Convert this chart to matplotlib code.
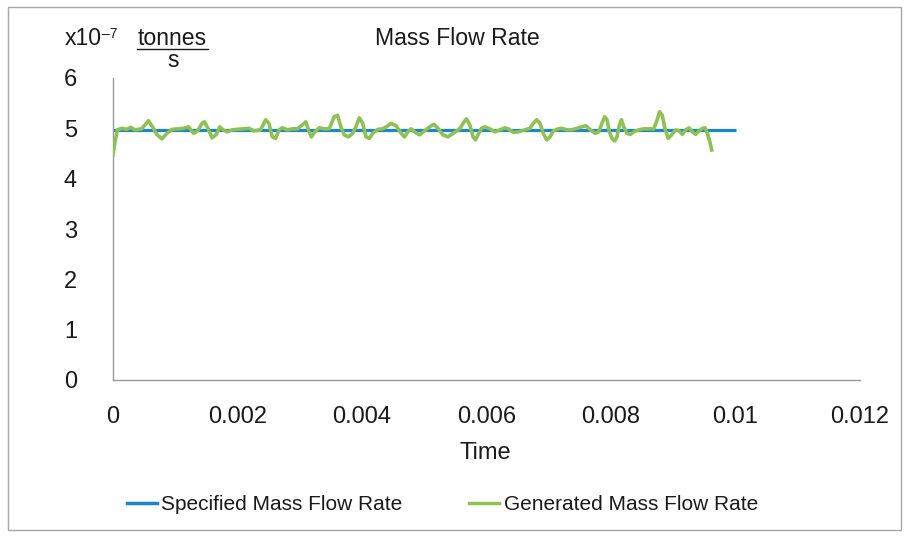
import matplotlib
matplotlib.use("Agg")
import matplotlib.pyplot as plt
from matplotlib.lines import Line2D
from matplotlib.patches import Rectangle

plt.rcParams['font.family'] = ['Liberation Sans', 'DejaVu Sans']

# ---- data (time in ms scaled below to seconds, mass flow in 1e-7 tonnes/s) ----
spec_t_ms = [0.0, 10.0]
spec_v = [4.97, 4.97]

gen_t_ms = [
    0.000, 0.032, 0.070, 0.140, 0.220, 0.285, 0.355, 0.462, 0.570, 0.650,
    0.704, 0.785, 0.866, 0.946, 1.054, 1.134, 1.215, 1.296, 1.360, 1.430,
    1.468, 1.521, 1.591, 1.661, 1.715, 1.769, 1.833, 1.914, 1.995, 2.102,
    2.183, 2.263, 2.371,
    2.452, 2.505, 2.559, 2.613, 2.667, 2.720, 2.801, 2.882, 2.962, 3.043,
    3.097, 3.151, 3.188, 3.242, 3.312, 3.392, 3.473, 3.554, 3.607, 3.661,
    3.715, 3.780, 3.849, 3.903, 3.957, 4.011, 4.064, 4.118, 4.172, 4.253,
    4.333, 4.414, 4.468, 4.548, 4.629, 4.683, 4.736, 4.790,
    4.844, 4.924, 5.005, 5.086, 5.156, 5.220, 5.301, 5.381, 5.489, 5.570,
    5.623, 5.677, 5.731, 5.785, 5.822, 5.865, 5.919, 5.973, 6.053, 6.134,
    6.215, 6.295, 6.349, 6.430, 6.510, 6.618, 6.698, 6.752, 6.806, 6.860,
    6.913, 6.967, 7.021, 7.075, 7.155, 7.209,
    7.291, 7.371, 7.452, 7.533, 7.597, 7.667, 7.748, 7.801, 7.855, 7.898,
    7.936, 7.973, 8.016, 8.059, 8.097, 8.135, 8.167, 8.205, 8.258, 8.312,
    8.366, 8.446, 8.527, 8.608, 8.688, 8.742, 8.780, 8.823, 8.866, 8.920,
    8.973, 9.038, 9.092, 9.145, 9.199, 9.253, 9.307, 9.360, 9.414, 9.468,
    9.511, 9.549, 9.586, 9.618,
]
gen_v = [
    4.47, 4.73, 4.97, 5.00, 4.98, 5.02, 4.97, 4.99, 5.15, 5.00,
    4.88, 4.79, 4.90, 4.98, 4.99, 5.00, 5.03, 4.90, 4.95, 5.10,
    5.13, 5.01, 4.81, 4.88, 5.03, 4.97, 4.93, 4.97, 4.98, 4.99,
    5.00, 4.95, 4.97,
    5.17, 5.10, 4.83, 4.80, 4.97, 5.01, 4.97, 4.99, 4.99, 5.07,
    5.13, 4.93, 4.83, 4.93, 5.01, 4.99, 4.99, 5.23, 5.26, 5.03,
    4.87, 4.83, 4.90, 5.03, 5.21, 5.10, 4.83, 4.80, 4.90, 4.98,
    4.99, 5.05, 5.10, 5.05, 4.90, 4.83, 4.93, 4.99,
    4.93, 4.87, 4.95, 5.03, 5.08, 5.00, 4.87, 4.83, 4.92, 4.99,
    5.10, 5.19, 5.07, 4.83, 4.77, 4.87, 5.00, 5.03, 4.99, 4.93,
    4.97, 5.01, 4.99, 4.92, 4.93, 4.97, 5.00, 5.10, 5.17, 5.10,
    4.90, 4.77, 4.83, 4.95, 4.99, 5.00,
    4.97, 4.97, 5.00, 5.03, 5.05, 4.97, 4.90, 4.93, 5.10, 5.23,
    5.17, 4.93, 4.80, 4.75, 4.83, 5.07, 5.17, 5.03, 4.90, 4.88,
    4.93, 4.97, 4.99, 4.99, 4.99, 5.17, 5.33, 5.26, 5.00, 4.80,
    4.87, 4.97, 4.95, 4.88, 4.97, 5.01, 4.93, 4.88, 4.95, 5.00,
    5.01, 4.90, 4.74, 4.57,
]

x_ticks = [0, 0.002, 0.004, 0.006, 0.008, 0.01, 0.012]
x_tick_labels = ['0', '0.002', '0.004', '0.006', '0.008', '0.01', '0.012']
y_ticks = [0, 1, 2, 3, 4, 5, 6]

series_names = ['Specified Mass Flow Rate', 'Generated Mass Flow Rate']
BLUE = '#1B87C6'
GREEN = '#8EC155'
TXT = '#1a1a1a'

W, H = 909, 537
fig = plt.figure(figsize=(W / 100, H / 100), dpi=100)

def fx(px):
    return px / W

def fy(py):
    return 1 - py / H

ax = fig.add_axes([fx(113), fy(380), fx(860) - fx(113), fy(78) - fy(380)])

spec_t = [t / 1000 for t in spec_t_ms]
gen_t = [t / 1000 for t in gen_t_ms]

ax.plot(spec_t, spec_v, color=BLUE, lw=2.3, solid_capstyle='butt', zorder=2)
ax.plot(gen_t, gen_v, color=GREEN, lw=2.6, solid_joinstyle='round', zorder=3)

ax.set_xlim(0, 0.012)
ax.set_ylim(0, 6)
ax.set_xticks(x_ticks)
ax.set_xticklabels(x_tick_labels)
ax.set_yticks(y_ticks)
ax.tick_params(axis='both', length=0, labelsize=17, colors=TXT)
ax.tick_params(axis='x', pad=19)
ax.tick_params(axis='y', pad=26)
for s in ['top', 'right']:
    ax.spines[s].set_visible(False)
for s in ['left', 'bottom']:
    ax.spines[s].set_color('#9a9a9a')
    ax.spines[s].set_linewidth(1.0)

# Titles and units
fig.text(fx(457), fy(45), 'Mass Flow Rate', fontsize=16.6, ha='center', va='baseline', color=TXT)
fig.text(fx(65), fy(45), 'x10', fontsize=16.6, ha='left', va='baseline', color=TXT)
fig.text(fx(102), fy(38), '\u20137', fontsize=10, ha='left', va='baseline', color=TXT)
fig.text(fx(172), fy(45), 'tonnes', fontsize=16.6, ha='center', va='baseline', color=TXT)
fig.add_artist(Line2D([fx(137), fx(208)], [fy(49), fy(49)], color=TXT, lw=1.0))
fig.text(fx(173), fy(67), 's', fontsize=16.6, ha='center', va='baseline', color=TXT)
fig.text(fx(485), fy(459), 'Time', fontsize=17, ha='center', va='baseline', color=TXT)

# Legend
handles = [Line2D([], [], color=BLUE, lw=2.5), Line2D([], [], color=GREEN, lw=2.5)]
leg = fig.legend(handles, series_names, loc='center left', bbox_to_anchor=(fx(127), fy(505)),
                 ncol=2, frameon=False, fontsize=15, handlelength=1.45, handletextpad=0.2,
                 columnspacing=3.2, borderpad=0, borderaxespad=0)
for t in leg.get_texts():
    t.set_color(TXT)

# Outer frame
fig.add_artist(Rectangle((fx(8), fy(530)), fx(901) - fx(8), fy(7) - fy(530),
                         fill=False, edgecolor='#a6a6a6', lw=1.0, transform=fig.transFigure))

fig.savefig('out.png', dpi=100)
